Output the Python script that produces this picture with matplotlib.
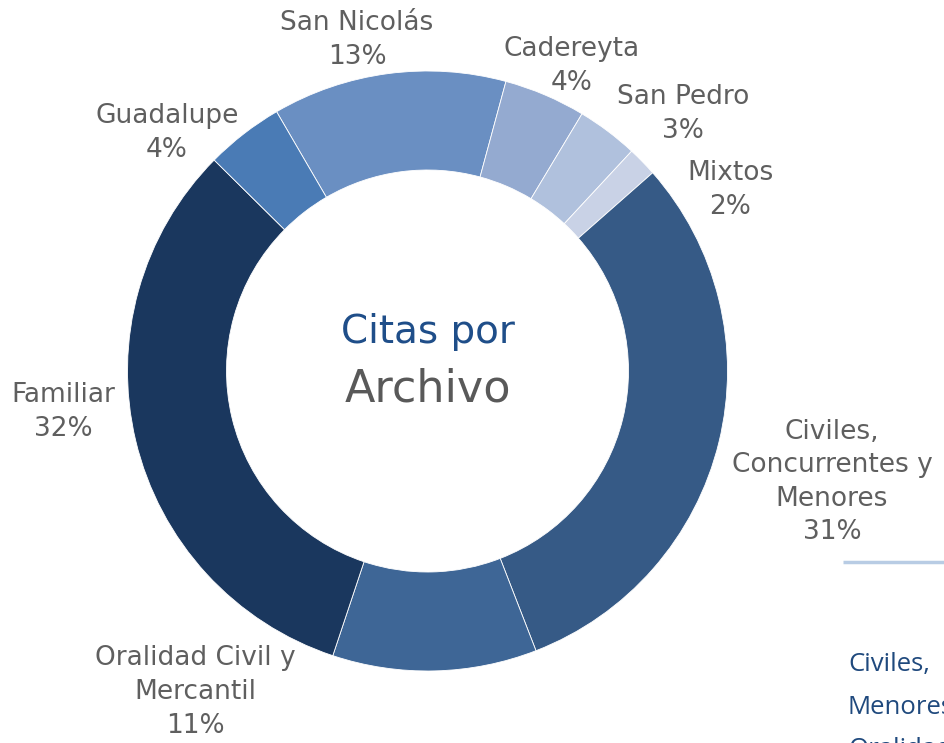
import matplotlib.pyplot as plt

# shares (percent)
categories = ["San Nicolás", "Cadereyta", "San Pedro", "Mixtos",
              "Civiles,\nConcurrentes y\nMenores", "Oralidad Civil y\nMercantil",
              "Familiar", "Guadalupe"]
shares = [12.6, 4.4, 3.3, 1.6, 30.6, 11.0, 32.3, 4.2]
colors = ["#6A8FC2", "#94AAD0", "#B0C1DD", "#C9D2E6",
          "#365A86", "#3E6696", "#1A375E", "#4A7BB5"]

# label anchor points in pixels (x, y from top)
label_pos = [(357, 40), (572, 66), (683, 114), (730, 190),
             (832, 482), (195, 692), (63, 412), (167, 133)]

W, H = 944, 743
fig = plt.figure(figsize=(W / 100, H / 100), dpi=100)
ax = fig.add_axes([0, 0, 1, 1])

cx, cy = 427.5, H - 371
ax.pie(shares, colors=colors, startangle=120.2, counterclock=False,
       center=(cx, cy), radius=300,
       wedgeprops=dict(width=99, edgecolor="white", linewidth=0.6))
ax.set_xlim(0, W)
ax.set_ylim(0, H)
ax.set_aspect("auto")
ax.axis("off")

font = "DejaVu Sans"
for name, val, (x, y) in zip(categories, shares, label_pos):
    ax.text(x, H - y, f"{name}\n{val:.0f}%", ha="center", va="center",
            fontsize=19, color="#5F5F5F", family=font, linespacing=1.38)

ax.text(cx, H - 332, "Citas por", ha="center", va="center",
        fontsize=28, color="#1F4E89", family=font)
ax.text(cx, H - 389, "Archivo", ha="center", va="center",
        fontsize=32, color="#595959", family=font)

# fragments of a neighbouring slide element cut by the frame
ax.plot([843, W], [H - 562, H - 562], color="#B8CCE4", linewidth=2.5,
        solid_capstyle="butt", clip_on=False)
for txt, y in [("Civiles,", 665), ("Menores", 707), ("Oralidad", 749)]:
    ax.text(848, H - y, txt, ha="left", va="center", fontsize=18.5,
            color="#1F497D", family="Open Sans")

fig.savefig("out.png", dpi=100)
